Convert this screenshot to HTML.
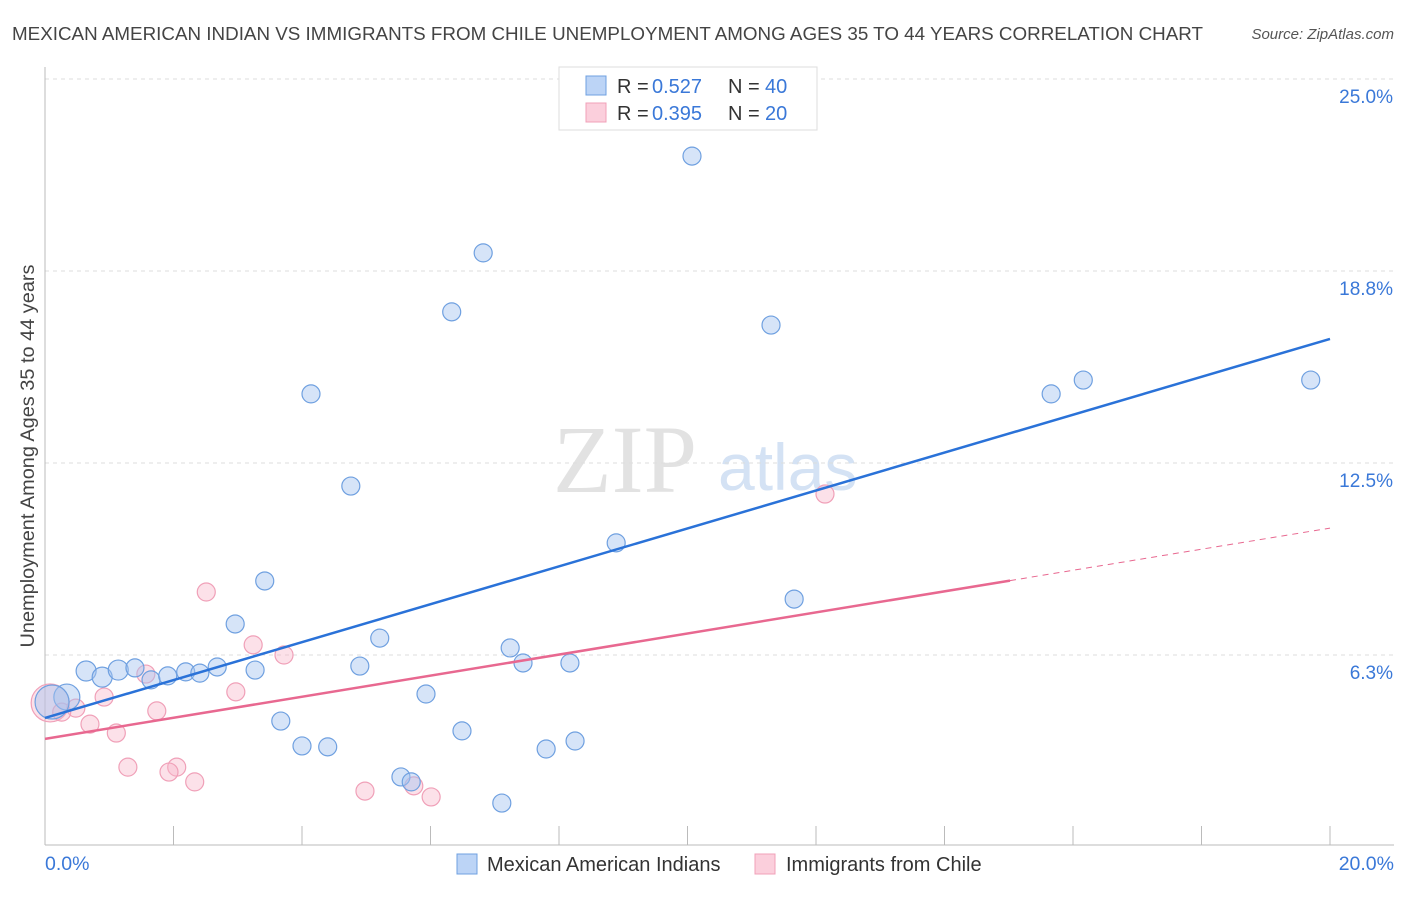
<!DOCTYPE html>
<html><head><meta charset="utf-8"><style>
body{margin:0;background:#fff;font-family:"Liberation Sans",sans-serif}
svg text{font-family:"Liberation Sans",sans-serif}
</style></head><body>
<svg id="chart" width="1406" height="892" xmlns="http://www.w3.org/2000/svg">
<text x="12" y="40" font-size="18.5" fill="#444" textLength="1191" lengthAdjust="spacingAndGlyphs">MEXICAN AMERICAN INDIAN VS IMMIGRANTS FROM CHILE UNEMPLOYMENT AMONG AGES 35 TO 44 YEARS CORRELATION CHART</text>
<text x="1394" y="39" font-size="15" fill="#555" text-anchor="end" font-style="italic">Source: ZipAtlas.com</text>
<g>
<text x="553" y="492" font-size="96" fill="#e2e2e2" style="font-family:'Liberation Serif',serif">ZIP</text>
<text x="718" y="490" font-size="66" fill="#d4e2f4">atlas</text>
</g>
<g id="grid"></g>
<g id="axes"></g>
<g id="marks"></g>
<text transform="translate(34,456) rotate(-90)" font-size="19" fill="#444" text-anchor="middle" textLength="383" lengthAdjust="spacingAndGlyphs">Unemployment Among Ages 35 to 44 years</text>
<text x="45" y="870" font-size="19.5" fill="#3a78d8">0.0%</text>
<text x="1394" y="870" font-size="19.5" fill="#3a78d8" text-anchor="end">20.0%</text>
<g>
<rect x="559" y="67" width="258" height="63" fill="#fff" stroke="#ddd"/>
<rect x="586" y="76" width="20" height="19" fill="#bcd4f6" stroke="#6fa0e0"/>
<text x="617" y="93" font-size="20" fill="#333">R =</text>
<text x="652" y="93" font-size="20" fill="#3a78d8">0.527</text>
<text x="728" y="93" font-size="20" fill="#333">N =</text>
<text x="765" y="93" font-size="20" fill="#3a78d8">40</text>
<rect x="586" y="103" width="20" height="19" fill="#fbcfdc" stroke="#f0a0b8"/>
<text x="617" y="120" font-size="20" fill="#333">R =</text>
<text x="652" y="120" font-size="20" fill="#3a78d8">0.395</text>
<text x="728" y="120" font-size="20" fill="#333">N =</text>
<text x="765" y="120" font-size="20" fill="#3a78d8">20</text>
</g>
<g>
<rect x="457" y="854" width="20" height="20" fill="#bcd4f6" stroke="#6fa0e0"/>
<text x="487" y="871" font-size="20" fill="#333">Mexican American Indians</text>
<rect x="755" y="854" width="20" height="20" fill="#fbcfdc" stroke="#f0a0b8"/>
<text x="786" y="871" font-size="20" fill="#333">Immigrants from Chile</text>
</g>
</svg>
<script>
const yTicks=[6.25,12.5,18.75,25];
const yTickLabels=["6.3%","12.5%","18.8%","25.0%"];
const xTicks=[0,2,4,6,8,10,12,14,16,18,20];
const blueX=[10.07,6.82,6.33,11.30,4.14,15.66,16.16,19.70,4.76,8.89,3.42,11.66,2.96,5.21,7.24,0.64,0.89,1.14,1.40,1.65,1.91,2.19,2.41,2.68,3.27,4.90,7.44,8.17,0.34,5.93,3.67,6.49,8.25,4.00,4.40,7.80,5.54,5.70,7.11,0.11];
const blueY=[22.49,19.34,17.42,16.99,14.75,14.75,15.20,15.20,11.75,9.90,8.66,8.07,7.26,6.80,6.48,5.73,5.53,5.76,5.83,5.44,5.57,5.70,5.66,5.86,5.76,5.89,5.99,5.99,4.88,4.98,4.10,3.78,3.45,3.29,3.26,3.19,2.28,2.12,1.43,4.72];
const blueR=[9,9,9,9,9,9,9,9,9,9,9,9,9,9,9,10,10,10,9,9,9,9,9,9,9,9,9,9,13,9,9,9,9,9,9,9,9,9,9,17];
const pinkX=[0.08,2.51,3.24,3.72,1.57,0.92,2.97,0.48,0.26,1.74,0.70,1.11,1.29,2.05,1.93,2.33,4.98,5.74,6.01,12.14];
const pinkY=[4.69,8.30,6.58,6.25,5.63,4.88,5.05,4.52,4.39,4.43,4.00,3.71,2.60,2.60,2.44,2.12,1.82,1.99,1.63,11.49];
const pinkR=[19,9,9,9,9,9,9,9,9,9,9,9,9,9,9,9,9,9,9,9];
const blueLine=[4.2,16.54];
const pinkLine=[3.52,10.38];
const pinkSolidEnd=15.02;
const NS="http://www.w3.org/2000/svg";
const X=v=>45+v*64.25, Y=v=>847-v*30.72;
function mk(t,a,p){const e=document.createElementNS(NS,t);for(const k in a)e.setAttribute(k,a[k]);document.getElementById(p).appendChild(e);return e;}
yTicks.forEach((t,i)=>{
 const g=mk('line',{x1:45,x2:1394,y1:Y(t),y2:Y(t),stroke:'#ddd','stroke-dasharray':'4,4'},'grid');
 
 
 const l=mk('text',{x:1393,y:Y(t)+24,'font-size':19,fill:'#3a78d8','text-anchor':'end'},'grid');
 
 
 l.textContent=yTickLabels[i];
});
const ax=mk('line',{x1:45,x2:1394,y1:845,y2:845,stroke:'#bbb'},'axes');


const ay=mk('line',{x1:45,x2:45,y1:67,y2:845,stroke:'#bbb'},'axes');


xTicks.forEach(t=>{
 const k=mk('line',{x1:X(t),x2:X(t),y1:826,y2:845,stroke:'#bbb'},'axes');
 
 
});
pinkX.forEach((x,i)=>{
 const c=mk('circle',{cx:X(x),cy:Y(pinkY[i]),r:pinkR[i],fill:'rgba(248,180,200,0.4)',stroke:'#f0a0b8','stroke-width':1.2},'marks');
 
 
});
blueX.forEach((x,i)=>{
 const c=mk('circle',{cx:X(x),cy:Y(blueY[i]),r:blueR[i],fill:'rgba(164,196,240,0.45)',stroke:'#6fa0e0','stroke-width':1.2},'marks');
 
 
});
const ps=pinkLine[0]+(pinkLine[1]-pinkLine[0])*pinkSolidEnd/20;
const pd=mk('line',{x1:X(pinkSolidEnd),y1:Y(ps),x2:X(20),y2:Y(pinkLine[1]),stroke:'#e86890','stroke-width':1,'stroke-dasharray':'6,5'},'marks');


const pl=mk('line',{x1:X(0),y1:Y(pinkLine[0]),x2:X(pinkSolidEnd),y2:Y(ps),stroke:'#e86890','stroke-width':2.5},'marks');


const bl=mk('line',{x1:X(0),y1:Y(blueLine[0]),x2:X(20),y2:Y(blueLine[1]),stroke:'#2a72d8','stroke-width':2.5},'marks');


</script>
</body></html>
